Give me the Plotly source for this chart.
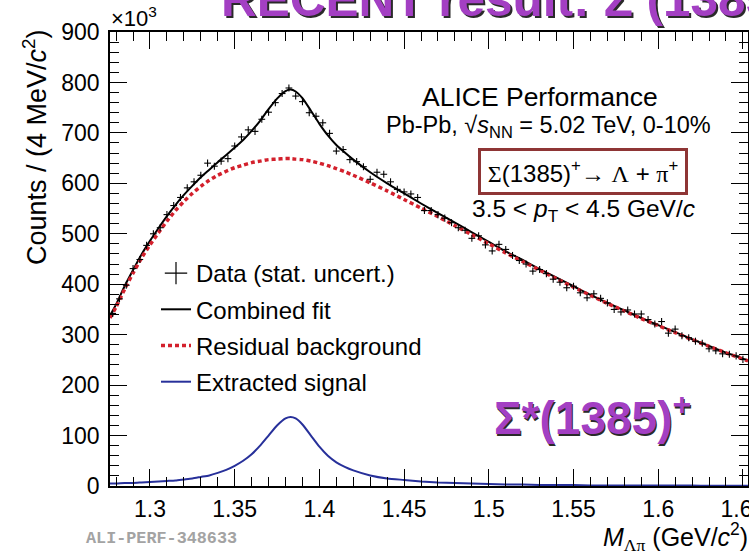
import plotly.graph_objects as go

# Lambda-pi invariant mass bin centres (GeV/c^2), 4 MeV bins
mass_bins = [
    1.278, 1.282, 1.286, 1.290, 1.294, 1.298, 1.302, 1.306, 1.310, 1.314,
    1.318, 1.322, 1.326, 1.330, 1.334, 1.338, 1.342, 1.346, 1.350, 1.354,
    1.358, 1.362, 1.366, 1.370, 1.374, 1.378, 1.382, 1.386, 1.390, 1.394,
    1.398, 1.402, 1.406, 1.410, 1.414, 1.418, 1.422, 1.426, 1.430, 1.434,
    1.438, 1.442, 1.446, 1.450, 1.454, 1.458, 1.462, 1.466, 1.470, 1.474,
    1.478, 1.482, 1.486, 1.490, 1.494, 1.498, 1.502, 1.506, 1.510, 1.514,
    1.518, 1.522, 1.526, 1.530, 1.534, 1.538, 1.542, 1.546, 1.550, 1.554,
    1.558, 1.562, 1.566, 1.570, 1.574, 1.578, 1.582, 1.586, 1.590, 1.594,
    1.598, 1.602, 1.606, 1.610, 1.614, 1.618, 1.622, 1.626, 1.630, 1.634,
    1.638, 1.642, 1.646, 1.650,
]

# counts per bin, in units of 10^3
counts_k = [
    342, 371, 398, 431, 449, 477, 500, 512, 538, 556,
    572, 591, 603, 616, 640, 634, 644, 649, 674, 692,
    706, 703, 727, 741, 760, 778, 789, 773, 762, 740,
    733, 720, 699, 664, 667, 647, 643, 633, 608, 622,
    618, 603, 588, 583, 579, 572, 546, 546, 538, 531,
    522, 512, 507, 491, 496, 478, 466, 479, 469, 457,
    447, 440, 426, 429, 421, 410, 404, 393, 396, 383,
    373, 381, 372, 363, 350, 345, 349, 341, 341, 330,
    321, 326, 303, 311, 298, 294, 287, 283, 272, 268,
    262, 261, 258, 251,
]
stat_err_k = 7.0          # statistical uncertainty per bin (10^3 counts)
bin_half_width = 0.002    # GeV/c^2

# fit curves sampled in mass (GeV/c^2), values in 10^3 counts
curve_mass = [
    1.2764, 1.280, 1.285, 1.290, 1.295, 1.300, 1.305, 1.310, 1.315, 1.320,
    1.325, 1.330, 1.335, 1.340, 1.345, 1.350, 1.355, 1.360, 1.365, 1.370,
    1.375, 1.380, 1.383, 1.386, 1.390, 1.395, 1.400, 1.405, 1.410, 1.415,
    1.420, 1.430, 1.440, 1.450, 1.460, 1.470, 1.480, 1.490, 1.500, 1.510,
    1.520, 1.530, 1.540, 1.550, 1.560, 1.570, 1.580, 1.590, 1.600, 1.610,
    1.620, 1.630, 1.640, 1.653,
]
combined_fit_k = [
    338, 360, 396, 428, 459, 486, 511, 535, 557, 577,
    595, 612, 627, 642, 656, 671, 686, 704, 724, 747,
    768, 783, 786, 782, 769, 744, 718, 695, 676, 661,
    647, 622, 600, 580, 560, 541, 522, 503, 484, 465,
    448, 430, 413, 396, 379, 363, 348, 333, 319, 305,
    291, 277.5, 264.5, 248.5,
]
background_k = [
    333, 355, 390, 422, 452, 478, 502, 525, 546, 564,
    580, 594, 606, 616, 624, 631, 636, 641, 644, 647,
    648, 649, 649, 648, 647, 644, 640, 635, 629, 623,
    616, 601, 585, 568, 551, 534, 516, 498, 480, 462,
    445, 428, 411, 394, 378, 362, 347, 332, 318, 304,
    290, 277, 264, 248,
]
signal_k = [
    5, 5, 6, 6, 7, 8, 9, 10, 11, 13,
    15, 18, 21, 26, 32, 40, 50, 63, 80, 100,
    120, 134, 137, 134, 122, 100, 78, 60, 47, 38,
    31, 21, 15, 12, 9, 7, 6, 5, 4, 3,
    3, 2, 2, 2, 1, 1, 1, 1, 1, 1,
    1, 0.5, 0.5, 0.5,
]

x_tick_vals = [1.30, 1.35, 1.40, 1.45, 1.50, 1.55, 1.60, 1.65]
x_tick_text = ["1.3", "1.35", "1.4", "1.45", "1.5", "1.55", "1.6", "1.65"]
y_tick_vals = [0, 100, 200, 300, 400, 500, 600, 700, 800, 900]
y_tick_text = ["0", "100", "200", "300", "400", "500", "600", "700", "800", "900"]

X_RANGE = [1.2764, 1.653]
Y_RANGE = [0, 900]

SANS = "Liberation Sans, Arial, Helvetica, sans-serif"
PURPLE = "#a33fc3"
FIT_BLACK = "#000000"
BKG_RED = "#d3202c"
SIG_BLUE = "#27309a"

fig = go.Figure()

fig.add_trace(go.Scatter(
    x=curve_mass, y=combined_fit_k, mode="lines",
    line=dict(color=FIT_BLACK, width=2, shape="spline", smoothing=0.6),
    name="Combined fit", legendrank=2, legendgroup="fit",
))
fig.add_trace(go.Scatter(
    x=curve_mass, y=background_k, mode="lines",
    line=dict(color=BKG_RED, width=3.5, dash="4px,3px", shape="spline", smoothing=0.6),
    name="Residual background", legendrank=3, legendgroup="bkg",
))
fig.add_trace(go.Scatter(
    x=curve_mass, y=signal_k, mode="lines",
    line=dict(color=SIG_BLUE, width=2, shape="spline", smoothing=0.6),
    name="Extracted signal", legendrank=4, legendgroup="sig",
))
# data points drawn as crosses: bin width horizontally, stat. error vertically
fig.add_trace(go.Scatter(
    x=mass_bins, y=counts_k, mode="markers",
    marker=dict(size=1, color="black"),
    error_x=dict(type="constant", value=bin_half_width, width=0, thickness=1.1, color="black"),
    error_y=dict(type="constant", value=stat_err_k, width=0, thickness=1.1, color="black"),
    showlegend=False, legendgroup="data",
))
# legend entry for the data
fig.add_trace(go.Scatter(
    x=[None], y=[None], mode="markers",
    marker=dict(symbol="cross-thin", size=16, line=dict(width=1.2, color="black")),
    name="Data (stat. uncert.)", legendrank=1, legendgroup="data",
))

axis_common = dict(
    showline=True, linecolor="black", linewidth=1.5, mirror="allticks",
    ticks="inside", ticklen=17, tickwidth=1.4, tickcolor="black",
    showgrid=False, zeroline=False, ticklabeloverflow="allow", automargin=False,
    tickfont=dict(family=SANS, size=23, color="black"),
)
fig.update_xaxes(
    range=X_RANGE, tickmode="array", tickvals=x_tick_vals, ticktext=x_tick_text,
    minor=dict(dtick=0.01, tick0=1.3, ticks="inside", ticklen=9, tickwidth=1.2,
               tickcolor="black", showgrid=False),
    ticklabelstandoff=2,
    **axis_common,
)
fig.update_yaxes(
    range=Y_RANGE, tickmode="array", tickvals=y_tick_vals, ticktext=y_tick_text,
    minor=dict(dtick=20, tick0=0, ticks="inside", ticklen=9, tickwidth=1.2,
               tickcolor="black", showgrid=False),
    ticklabelstandoff=4,
    **axis_common,
)

L, R, T, B = 110, 1, 32, 67
W, H = 749, 553
PW, PH = W - L - R, H - T - B


def px(xp):
    return (xp - L) / PW


def py(yp):
    return (H - B - yp) / PH


annotations = []


def text(t, x, y, size, xanchor="center", yanchor="middle", family=SANS, color="black", **kw):
    annotations.append(dict(text=t, x=px(x), y=py(y), xref="paper", yref="paper",
                            xanchor=xanchor, yanchor=yanchor, showarrow=False,
                            font=dict(family=family, size=size, color=color), **kw))


def shadowed(t, x, y, size, xanchor="center", yanchor="middle"):
    text(t, x, y, size, xanchor=xanchor, yanchor=yanchor, color="#2a2a2a", xshift=1.6, yshift=-1.6)
    text(t, x, y, size, xanchor=xanchor, yanchor=yanchor, color=PURPLE)


# slide headline, partly above the figure edge
shadowed("<b>RECENT result: Σ<sup>*</sup>(1385)<sup>+</sup></b>", 219, 28, 49.5,
         xanchor="left", yanchor="bottom")

text("×10<sup>3</sup>", 109, 33, 22, xanchor="left", yanchor="bottom")
text("Counts / (4 MeV/<i>c</i><sup>2</sup>)", 35, 147, 27, textangle=-90)
text("<i>M</i><sub><span style='font-family:Liberation Serif'>Λπ</span></sub> (GeV/<i>c</i><sup>2</sup>)",
     750, 537, 25, xanchor="right")
text("<b>ALI-PERF-348633</b>", 84, 538, 16.8, xanchor="left",
     family="Liberation Mono, DejaVu Sans Mono, monospace", color="#a3a3a3")

text("ALICE Performance", 540, 97, 26.5)
text("Pb-Pb, √<i>s</i><sub>NN</sub> = 5.02 TeV, 0-10%", 548, 126, 23.5)
annotations.append(dict(
    text="<span style='font-family:Liberation Serif'>Σ</span>(1385)<sup>+</sup>"
         "→ <span style='font-family:Liberation Serif'>Λ</span> + "
         "<span style='font-family:Liberation Serif'>π</span><sup>+</sup>",
    x=px(583), y=py(172), xref="paper", yref="paper", xanchor="center", yanchor="middle",
    showarrow=False, font=dict(family=SANS, size=24, color="black"),
    bordercolor="#8e3535", borderwidth=3, borderpad=2, width=200, height=37,
    bgcolor="white",
))
text("3.5 &lt; <i>p</i><sub>T</sub> &lt; 4.5 GeV/<i>c</i>", 583, 211, 24.5)

shadowed("<b>Σ*(1385)<sup>+</sup></b>", 592, 415, 46)

fig.update_layout(
    width=W, height=H,
    margin=dict(l=L, r=R, t=T, b=B, pad=0, autoexpand=False),
    paper_bgcolor="white", plot_bgcolor="white",
    font=dict(family=SANS, size=22, color="black"),
    showlegend=True,
    legend=dict(
        x=px(156), y=py(251), xanchor="left", yanchor="top",
        bgcolor="rgba(0,0,0,0)", borderwidth=0,
        font=dict(family=SANS, size=24, color="black"),
        tracegroupgap=2, itemwidth=30,
    ),
    annotations=annotations,
)

fig.write_html("out.html")
